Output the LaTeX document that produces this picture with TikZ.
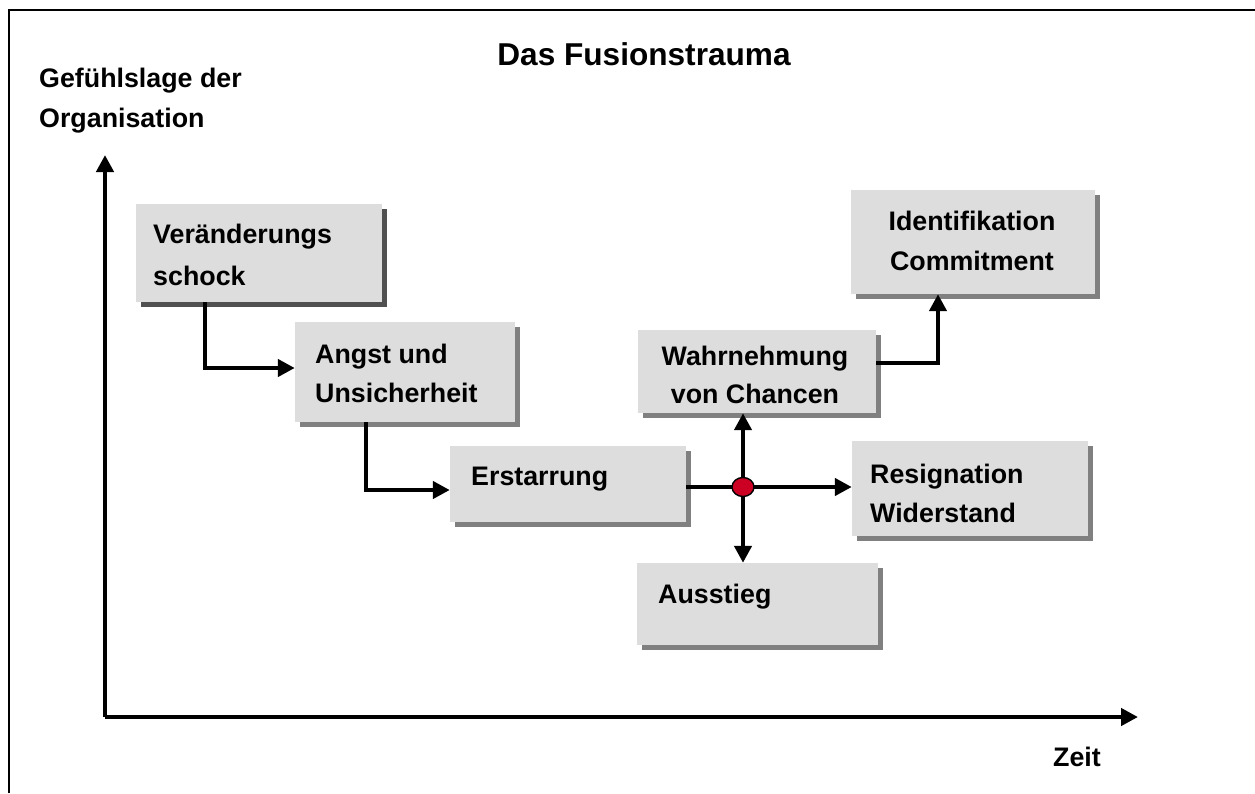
\documentclass[tikz,border=0pt]{standalone}
\usepackage{fontspec}
\setmainfont{Liberation Sans}
\usetikzlibrary{arrows.meta,shadows,shapes.geometric}
\definecolor{boxfill}{HTML}{DDDDDD}
\definecolor{shadowgray}{HTML}{808080}
\definecolor{shadowdark}{HTML}{505050}
\definecolor{hubred}{HTML}{CC0022}
\tikzset{
  box/.style={draw=none, fill=boxfill, inner sep=0pt,
    drop shadow={shadow xshift=5pt, shadow yshift=-5pt, fill=shadowgray, opacity=1}},
  boxdark/.style={box, drop shadow={shadow xshift=5pt, shadow yshift=-5pt, fill=shadowdark, opacity=1}},
  lbl/.style={inner sep=0pt, anchor=base west, font=\fontsize{26.8}{41}\selectfont\bfseries},
  clbl/.style={lbl, anchor=base},
  conn/.style={line width=4.6pt},
  arr/.style={conn, -{Triangle[length=17pt,width=17pt]}},
  hubstyle/.style={ellipse, draw=black, line width=1.4pt, fill=hubred, minimum width=22pt, minimum height=19pt, inner sep=0pt},
}
\begin{document}
\begin{tikzpicture}[x=1pt,y=-1pt]
\useasboundingbox (0,0) rectangle (1255,793);
% frame
\draw[line width=2pt] (8.5,793) -- (8.5,10) -- (1255,10);

% title and axis labels
\node[clbl, font=\fontsize{31.6}{38}\selectfont\bfseries] (title) at (644,65) {Das Fusionstrauma};
\node[lbl] (ylab1) at (39,87) {Gefühlslage der};
\node[lbl] (ylab2) at (39,127) {Organisation};
\node[lbl] (xlab) at (1053,766) {Zeit};

% axes
\coordinate (O) at (105,717);
\coordinate (ytop) at (105,155);
\coordinate (xend) at (1138,717);
\draw[arr] (O) -- (ytop);
\draw[arr] (O) -- (xend);

% boxes
\node[boxdark, minimum width=246pt, minimum height=98pt] (b1) at (259,253) {};
\node[box, minimum width=220pt, minimum height=100pt] (b2) at (405,372) {};
\node[box, minimum width=236pt, minimum height=76pt] (b3) at (568,484) {};
\node[box, minimum width=238pt, minimum height=83pt] (b4) at (757,371.5) {};
\node[box, minimum width=244pt, minimum height=104pt] (b5) at (973,242) {};
\node[box, minimum width=236pt, minimum height=95pt] (b6) at (970,488.5) {};
\node[box, minimum width=241pt, minimum height=82pt] (b7) at (757.5,604) {};

% box texts
\node[lbl] (t1a) at (153,243) {Veränderungs};
\node[lbl] (t1b) at (153,285) {schock};
\node[lbl] (t2a) at (315,363) {Angst und};
\node[lbl] (t2b) at (315,402) {Unsicherheit};
\node[lbl] (t3) at (471,485) {Erstarrung};
\node[clbl] (t4a) at (755,365) {Wahrnehmung};
\node[clbl] (t4b) at (755,403) {von Chancen};
\node[clbl] (t5a) at (972,230) {Identifikation};
\node[clbl] (t5b) at (972,270) {Commitment};
\node[lbl] (t6a) at (870,483) {Resignation};
\node[lbl] (t6b) at (870,522) {Widerstand};
\node[lbl] (t7) at (658,603) {Ausstieg};

% connectors
\coordinate (c1) at (205,368);
\coordinate (c2) at (366,490);
\coordinate (c4) at (938,363);
\coordinate (hubc) at (743,487);
\draw[arr] (b1.south -| c1) |- (b2.west |- c1);
\draw[arr] (b2.south -| c2) |- (b3.west |- c2);
\draw[conn] (b3.east |- hubc) -- (hubc);
\draw[arr] (hubc) -- (b6.west |- hubc);
\draw[arr] (hubc) -- (b4.south -| hubc);
\draw[arr] (hubc) -- (b7.north -| hubc);
\draw[arr] (b4.east |- c4) -| (b5.south -| c4);
\node[hubstyle] (hub) at (hubc) {};
\end{tikzpicture}
\end{document}
